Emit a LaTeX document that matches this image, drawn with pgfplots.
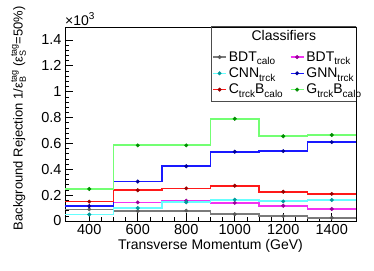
\documentclass[border=0pt]{standalone}
\usepackage{fontspec}
\setmainfont{Liberation Sans}
\usepackage{pgfplots}
\pgfplotsset{compat=1.18}
\definecolor{lgray}{rgb}{0.48,0.48,0.48}
\definecolor{dgray}{rgb}{0.35,0.35,0.35}
\definecolor{lmag}{rgb}{0.95,0.2,0.95}
\definecolor{dmag}{rgb}{0.6,0,0.6}
\definecolor{lcyan}{rgb}{0.4,1,1}
\definecolor{dcyan}{rgb}{0,0.6,0.6}
\definecolor{lblue}{rgb}{0.1,0.1,1}
\definecolor{dblue}{rgb}{0,0,0.6}
\definecolor{lred}{rgb}{1,0.1,0.1}
\definecolor{dred}{rgb}{0.6,0,0}
\definecolor{lgreen}{rgb}{0.45,1,0.45}
\definecolor{dgreen}{rgb}{0,0.55,0}
\newcommand\sbs[1]{\raisebox{-0.5ex}{\fontsize{10}{10}\selectfont #1}}
\newcommand\ssb[2]{\begingroup\sbox0{\raisebox{0.85ex}{\fontsize{9}{9}\selectfont #1}}\sbox2{\raisebox{-0.45ex}{\fontsize{9}{9}\selectfont #2}}\rlap{\usebox0}\usebox2\ifdim\wd0>\wd2 \hspace{\dimexpr\wd0-\wd2\relax}\fi\endgroup}
\pgfplotsset{
  myleg/.style n args={2}{legend image code/.code={\draw[#1,line width=1.6pt] (0pt,0pt)--(13pt,0pt); \fill[#2] (6.5pt,0pt) circle (1.8pt);}},
  hist/.style={const plot, no marks, line width=1.7pt, forget plot},
  pts/.style={only marks, mark=*, mark size=1.8pt, forget plot},
}
\begin{document}
\begin{tikzpicture}
\begin{axis}[
  scale only axis, width=291pt, height=194pt,
  xmin=300, xmax=1500, ymin=0, ymax=1.5,
  xtick={400,600,800,1000,1200,1400},
  xticklabels={400,600,800,1000,1200,1400},
  minor x tick num=3,
  ytick={0,0.2,0.4,0.6,0.8,1,1.2,1.4},
  yticklabels={0,0.2,0.4,0.6,0.8,1,1.2,1.4},
  minor y tick num=4,
  xtick pos=bottom, ytick pos=left, tick align=inside,
  major tick length=8pt, minor tick length=4pt,
  every tick/.style={black, line width=0.6pt},
  axis line style={line width=0.8pt},
  tick label style={font=\fontsize{14.5}{16}\selectfont},
  /pgf/number format/assume math mode=true,
  xlabel={Transverse Momentum (GeV)},
  xlabel style={font=\fontsize{14}{16}\selectfont, at={(axis description cs:0.5,0)}, anchor=center, yshift=-25pt},
  ylabel={Background Rejection 1/ε\ssb{tag}{B} (ε\ssb{tag}{S}=50\%)},
  ylabel style={font=\fontsize{13}{15}\selectfont, at={(axis description cs:-0.16,0.53)}, anchor=center},
  legend columns=2, legend cell align=left,
  legend style={draw=none, fill=none, at={(0.502,0.89)}, anchor=north west,
    font=\fontsize{14}{16}\selectfont, inner sep=1pt, row sep=1pt,
    /tikz/every even column/.append style={column sep=5pt}},
]
% BDT calo
\addplot[hist, lgray] coordinates {(300,0.090) (500,0.077) (700,0.080) (900,0.052) (1100,0.038) (1300,0.025) (1500,0.025)};
\addplot[pts, dgray] coordinates {(400,0.090) (600,0.077) (800,0.080) (1000,0.052) (1200,0.038) (1400,0.025)};
% BDT trck
\addplot[hist, lmag] coordinates {(300,0.115) (500,0.144) (700,0.157) (900,0.140) (1100,0.118) (1300,0.093) (1500,0.093)};
\addplot[pts, dmag] coordinates {(400,0.115) (600,0.144) (800,0.157) (1000,0.140) (1200,0.118) (1400,0.093)};
% CNN trck
\addplot[hist, lcyan] coordinates {(300,0.050) (500,0.100) (700,0.145) (900,0.165) (1100,0.152) (1300,0.162) (1500,0.162)};
\addplot[pts, dcyan] coordinates {(400,0.050) (600,0.100) (800,0.145) (1000,0.165) (1200,0.152) (1400,0.162)};
% GNN trck
\addplot[hist, lblue] coordinates {(300,0.115) (500,0.305) (700,0.423) (900,0.536) (1100,0.540) (1300,0.610) (1500,0.610)};
\addplot[pts, dblue] coordinates {(400,0.115) (600,0.305) (800,0.423) (1000,0.536) (1200,0.540) (1400,0.610)};
% Ctrck Bcalo
\addplot[hist, lred] coordinates {(300,0.150) (500,0.238) (700,0.252) (900,0.273) (1100,0.226) (1300,0.210) (1500,0.210)};
\addplot[pts, dred] coordinates {(400,0.150) (600,0.238) (800,0.252) (1000,0.273) (1200,0.226) (1400,0.210)};
% Gtrck Bcalo
\addplot[hist, lgreen] coordinates {(300,0.248) (500,0.585) (700,0.585) (900,0.790) (1100,0.655) (1300,0.665) (1500,0.665)};
\addplot[pts, dgreen] coordinates {(400,0.248) (600,0.585) (800,0.585) (1000,0.790) (1200,0.655) (1400,0.665)};

\addlegendimage{myleg={lgray}{dgray}}\addlegendentry{BDT\sbs{calo}}
\addlegendimage{myleg={lmag}{dmag}}\addlegendentry{BDT\sbs{trck}}
\addlegendimage{myleg={lcyan}{dcyan}}\addlegendentry{CNN\sbs{trck}}
\addlegendimage{myleg={lblue}{dblue}}\addlegendentry{GNN\sbs{trck}}
\addlegendimage{myleg={lred}{dred}}\addlegendentry{C\sbs{trck}B\sbs{calo}}
\addlegendimage{myleg={lgreen}{dgreen}}\addlegendentry{G\sbs{trck}B\sbs{calo}}

\draw[black!70, line width=1pt] (rel axis cs:0.502,0.615) rectangle (rel axis cs:1,1);
\node[font=\fontsize{14}{16}\selectfont] at (rel axis cs:0.752,0.955) {Classifiers};
\end{axis}
\node[anchor=south west, inner sep=0pt, font=\fontsize{14}{16}\selectfont] at ([yshift=1pt]current axis.north west) {×10\raisebox{0.8ex}{\fontsize{10}{10}\selectfont 3}};
\pgfresetboundingbox
\path ([shift={(-65pt,-49pt)}]current axis.south west) rectangle ([shift={(18pt,27pt)}]current axis.north east);
\end{tikzpicture}
\end{document}
